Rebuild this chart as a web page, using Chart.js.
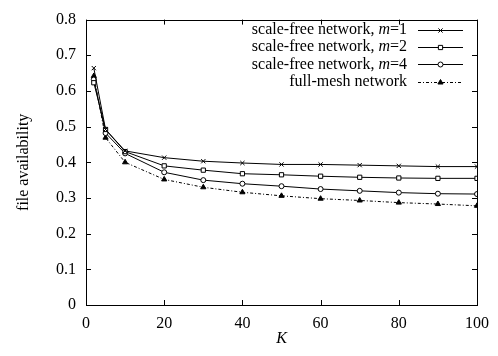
<!DOCTYPE html>
<html><head><meta charset="utf-8">
<script src="https://cdn.jsdelivr.net/npm/chart.js@4/dist/chart.umd.min.js"></script>
<style>html,body{margin:0;padding:0;background:#fff}#wrap{width:498px;height:356px}</style>
</head><body><div id="wrap"><canvas id="c" width="498" height="356"></canvas></div>
<script>
const K = [2, 5, 10, 20, 30, 40, 50, 60, 70, 80, 90, 100];
const sfM1 = [0.664, 0.492, 0.432, 0.413, 0.403, 0.398, 0.394, 0.394, 0.392, 0.390, 0.388, 0.388];
const sfM2 = [0.623, 0.492, 0.430, 0.390, 0.378, 0.368, 0.365, 0.361, 0.358, 0.356, 0.355, 0.355];
const sfM4 = [0.632, 0.482, 0.425, 0.372, 0.350, 0.340, 0.333, 0.325, 0.320, 0.315, 0.312, 0.311];
const fullMesh = [0.642, 0.469, 0.400, 0.352, 0.330, 0.316, 0.306, 0.298, 0.293, 0.287, 0.283, 0.278];
const xTickLabels = ['0', '20', '40', '60', '80', '100'];
const yTickLabels = ['0', '0.1', '0.2', '0.3', '0.4', '0.5', '0.6', '0.7', '0.8'];
const seriesNames = [['scale-free network, ', 'm', '=1'], ['scale-free network, ', 'm', '=2'], ['scale-free network, ', 'm', '=4'], ['full-mesh network', '', '']];

const FONT = '"Liberation Serif", "Times New Roman", serif';
const FS = 16;

function pts(arr) { return K.map((k, i) => ({x: k, y: arr[i]})); }

const frame = {
  id: 'frame',
  afterDatasetsDraw(chart) {
    const {ctx, chartArea: a, scales: {x, y}} = chart;
    ctx.save();
    ctx.strokeStyle = '#000';
    ctx.lineWidth = 1;
    ctx.strokeRect(Math.round(a.left) + 0.5, Math.round(a.top) + 0.5, Math.round(a.right - a.left), Math.round(a.bottom - a.top));
    const L = 5;
    ctx.beginPath();
    x.ticks.forEach(t => {
      const px = Math.round(x.getPixelForValue(t.value)) + 0.5;
      ctx.moveTo(px, a.bottom); ctx.lineTo(px, a.bottom - L);
      ctx.moveTo(px, a.top); ctx.lineTo(px, a.top + L);
    });
    y.ticks.forEach(t => {
      const py = Math.round(y.getPixelForValue(t.value)) + 0.5;
      ctx.moveTo(a.left, py); ctx.lineTo(a.left + L, py);
      ctx.moveTo(a.right, py); ctx.lineTo(a.right - L, py);
    });
    ctx.stroke();

    // legend
    const textRight = 407, lx0 = 418, lx1 = 463, row0 = 30, dy = 17.2;
    chart.data.datasets.forEach((ds, i) => {
      const yy = row0 + i * dy;
      const parts = seriesNames[i];
      ctx.textBaseline = 'middle';
      ctx.fillStyle = '#000';
      const fUp = FS + 'px ' + FONT, fIt = 'italic ' + FS + 'px ' + FONT;
      ctx.font = fUp; const w0 = ctx.measureText(parts[0]).width; const w2 = ctx.measureText(parts[2]).width;
      ctx.font = fIt; const w1 = ctx.measureText(parts[1]).width;
      let xx = textRight - (w0 + w1 + w2);
      ctx.textAlign = 'left';
      ctx.font = fUp; ctx.fillText(parts[0], xx, yy); xx += w0;
      ctx.font = fIt; ctx.fillText(parts[1], xx, yy); xx += w1;
      ctx.font = fUp; ctx.fillText(parts[2], xx, yy);
      ctx.beginPath();
      ctx.setLineDash(ds.borderDash || []);
      ctx.lineWidth = ds.borderWidth;
      ctx.strokeStyle = ds.borderColor;
      ctx.moveTo(lx0, Math.round(yy) + 0.5); ctx.lineTo(lx1, Math.round(yy) + 0.5);
      ctx.stroke();
      ctx.setLineDash([]);
      ctx.fillStyle = ds.pointBackgroundColor; ctx.strokeStyle = '#000';
      ctx.lineWidth = 1;
      Chart.helpers.drawPoint(ctx, {pointStyle: ds.pointStyle, radius: ds.pointRadius, borderWidth: 1, rotation: 0}, (lx0 + lx1) / 2, Math.round(yy) + 0.5);
    });
    ctx.restore();
  }
};

const common = {borderColor: '#000', borderWidth: 1, pointBorderColor: '#000', pointBorderWidth: 1, tension: 0, fill: false};

new Chart(document.getElementById('c'), {
  type: 'line',
  data: {
    datasets: [
      Object.assign({label: 'scale-free network, m=1', data: pts(sfM1), pointStyle: 'crossRot', pointRadius: 3, pointBackgroundColor: '#000'}, common),
      Object.assign({label: 'scale-free network, m=2', data: pts(sfM2), pointStyle: 'rect', pointRadius: 3, pointBackgroundColor: '#fff'}, common),
      Object.assign({label: 'scale-free network, m=4', data: pts(sfM4), pointStyle: 'circle', pointRadius: 2.5, pointBackgroundColor: '#fff'}, common),
      Object.assign({label: 'full-mesh network', data: pts(fullMesh), pointStyle: 'triangle', pointRadius: 3, pointBackgroundColor: '#000', borderDash: [3, 2, 1, 2]}, common)
    ]
  },
  options: {
    responsive: false,
    animation: false,
    events: [],
    layout: {padding: {left: 0, right: 14, top: 15, bottom: 0}},
    plugins: {legend: {display: false}, tooltip: {enabled: false}},
    scales: {
      x: {
        type: 'linear', min: 0, max: 100,
        afterFit(s) { s.height = 51; },
        grid: {display: false, drawTicks: false},
        border: {display: false},
        ticks: {stepSize: 20, color: '#000', font: {family: FONT, size: FS}, padding: 9,
                callback: (v) => xTickLabels[Math.round(v / 20)]},
        title: {display: true, text: 'K', color: '#000', font: {family: FONT, size: FS, style: 'italic'}, padding: {top: 0, bottom: 8}}
      },
      y: {
        type: 'linear', min: 0, max: 0.8,
        afterFit(s) { s.width = 86; },
        grid: {display: false, drawTicks: false},
        border: {display: false},
        ticks: {stepSize: 0.1, color: '#000', font: {family: FONT, size: FS}, padding: 10,
                callback: (v) => yTickLabels[Math.round(v * 10)]},
        title: {display: true, text: 'file availability', color: '#000', font: {family: FONT, size: FS}, padding: {top: 14, bottom: 0}}
      }
    }
  },
  plugins: [frame]
});
</script></body></html>
